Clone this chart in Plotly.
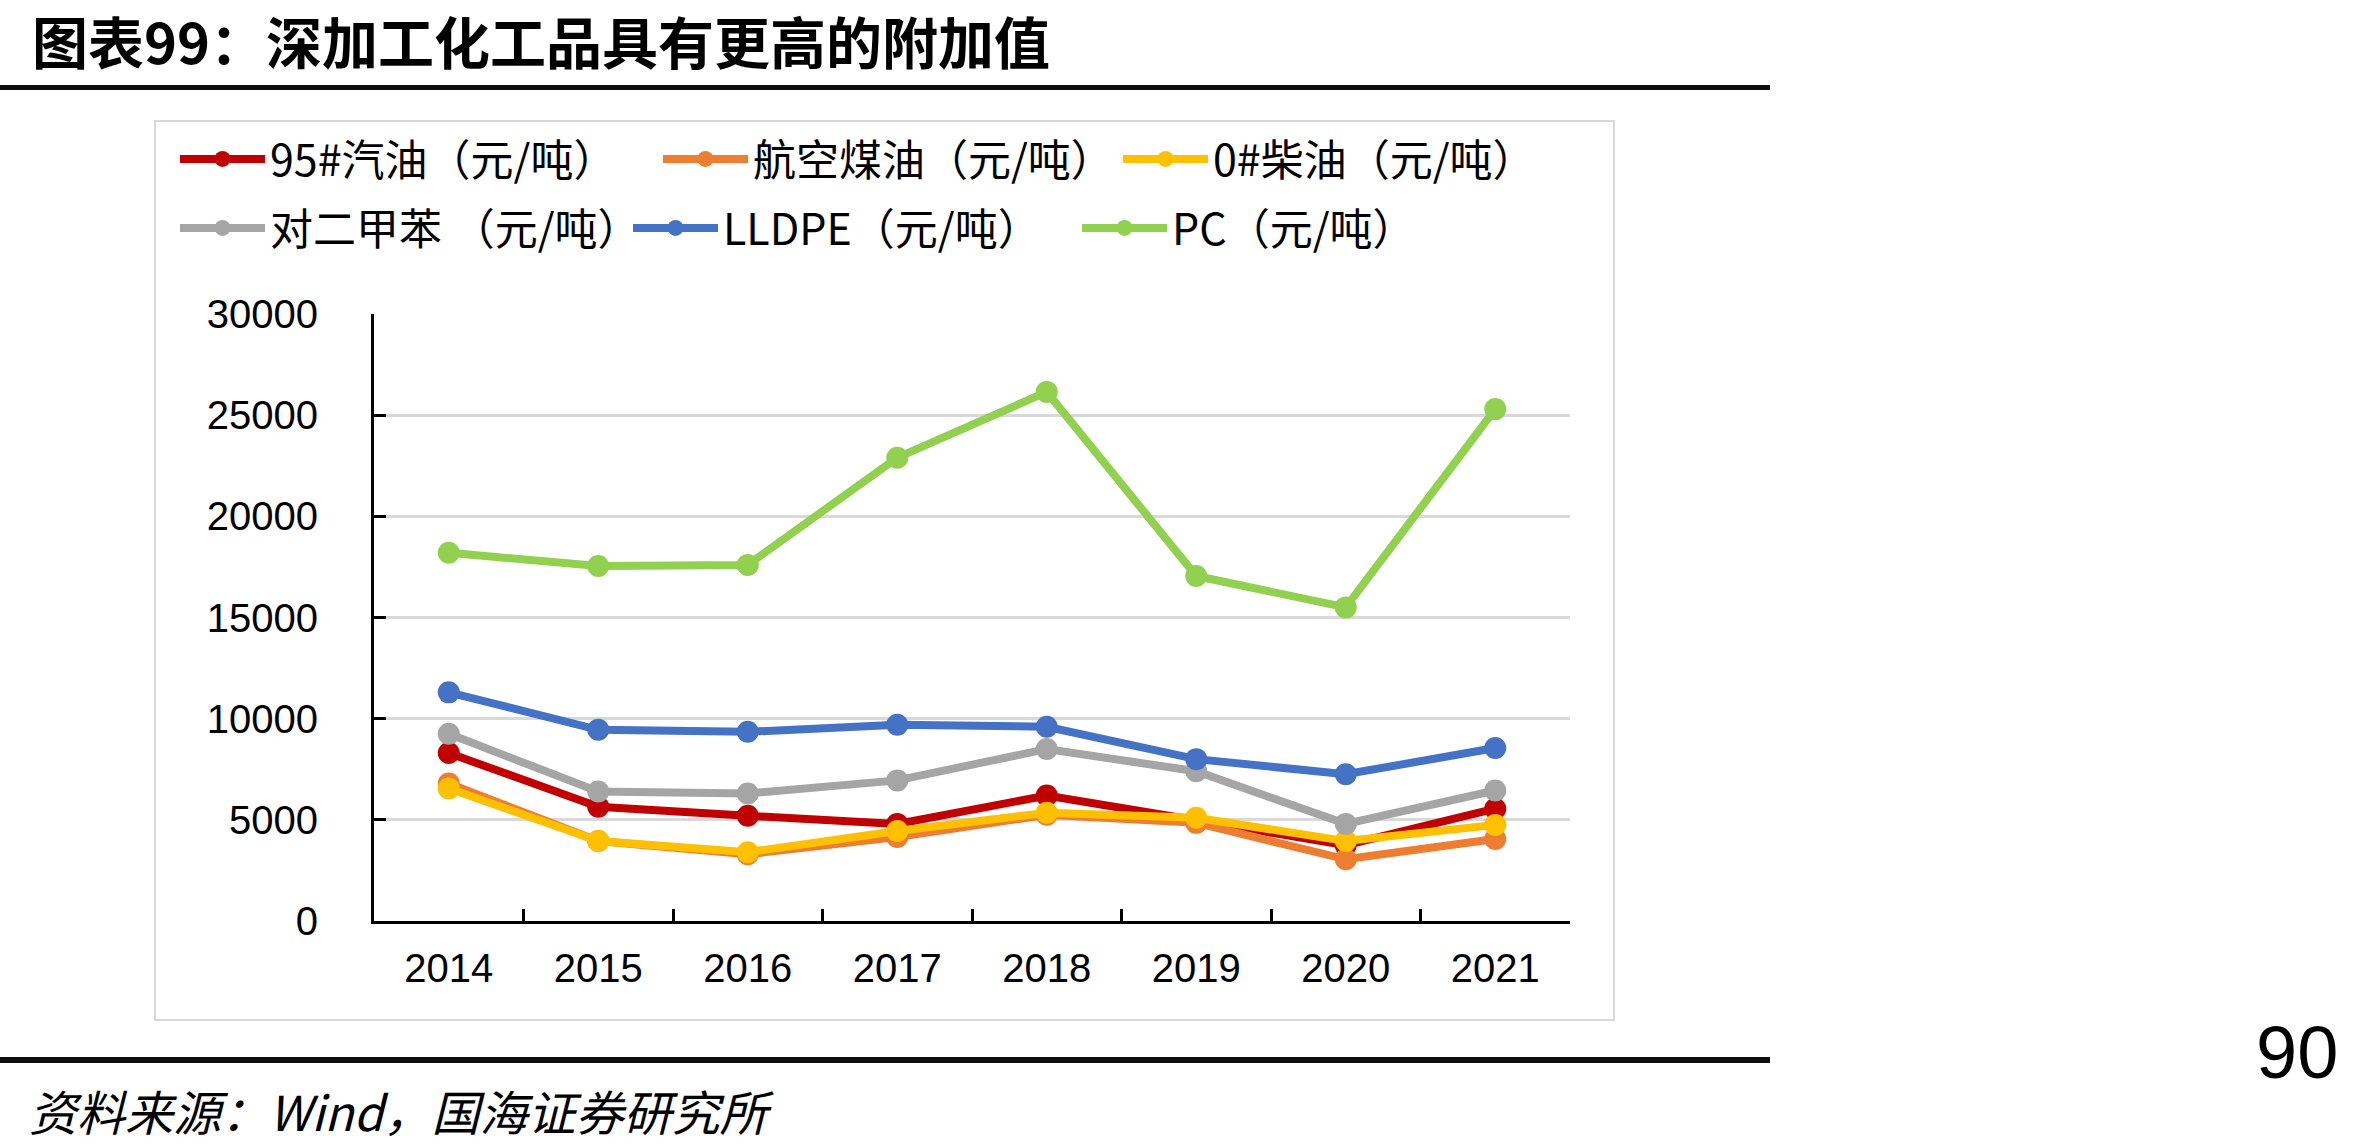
import plotly.graph_objects as go

W, H = 2363, 1146

# ---------------- data ----------------
years = ["2014", "2015", "2016", "2017", "2018", "2019", "2020", "2021"]
gasoline_95 = [8300, 5650, 5200, 4800, 6200, 4950, 3750, 5550]
jet_kerosene = [6800, 3950, 3300, 4150, 5250, 4850, 3050, 4050]
diesel_0 = [6550, 3950, 3400, 4450, 5350, 5100, 3950, 4750]
paraxylene = [9250, 6400, 6300, 6950, 8500, 7400, 4800, 6450]
lldpe = [11300, 9450, 9350, 9700, 9600, 8000, 7250, 8550]
pc = [18200, 17550, 17600, 22900, 26150, 17050, 15500, 25300]

series_names = ["95#汽油（元/吨）", "航空煤油（元/吨）", "0#柴油（元/吨）",
                "对二甲苯 （元/吨）", "LLDPE（元/吨）", "PC（元/吨）"]
series_values = [gasoline_95, jet_kerosene, diesel_0, paraxylene, lldpe, pc]
y_ticks = [0, 5000, 10000, 15000, 20000, 25000, 30000]
y_tick_labels = ["0", "5000", "10000", "15000", "20000", "25000", "30000"]

title_text = "图表99：深加工化工品具有更高的附加值"
source_text = "资料来源：Wind，国海证券研究所"
page_text = "90"

# ---------------- styling ----------------
colors = ["#C00000", "#ED7D31", "#FFC000", "#A5A5A5", "#4472C4", "#92D050"]
legend_ids = ["legend", "legend", "legend", "legend2", "legend2", "legend2"]
legend_widths = [383, 360, None, 353, 349, None]

L, R, T, B = 374, 1570, 314, 921


def xp(px):
    return (px - L) / (R - L)


def yp(py):
    return (B - py) / (B - T)


CJK = "Noto Sans CJK SC"
LAT = "Liberation Sans, Arial"

fig = go.Figure()
for name, vals, col, lg, lw in zip(series_names, series_values, colors, legend_ids, legend_widths):
    kw = {}
    if lw is not None:
        kw["legendwidth"] = lw
    fig.add_trace(go.Scatter(
        x=years, y=vals, name=name, mode="lines+markers",
        line=dict(color=col, width=8),
        marker=dict(color=col, size=22),
        legend=lg, **kw))

legend_font = dict(family=CJK, size=43, color="black")
fig.update_layout(
    width=W, height=H,
    margin=dict(l=L, r=W - R, t=T, b=H - B),
    paper_bgcolor="white", plot_bgcolor="white",
    showlegend=True,
    legend=dict(orientation="h", x=xp(175), xanchor="left", y=yp(159), yanchor="middle",
                itemwidth=85, font=legend_font,
                bgcolor="rgba(0,0,0,0)", traceorder="normal"),
    legend2=dict(orientation="h", x=xp(175), xanchor="left", y=yp(228), yanchor="middle",
                 itemwidth=85, font=legend_font,
                 bgcolor="rgba(0,0,0,0)", traceorder="normal"),
    xaxis=dict(type="category", showline=True, linecolor="black", linewidth=3,
               ticks="inside", tickson="boundaries", ticklen=12, tickwidth=3, tickcolor="black",
               showgrid=False, tickfont=dict(family=LAT, size=40, color="black"),
               ticklabelstandoff=10, range=[-0.5, 7.5]),
    yaxis=dict(range=[0, 30000], tickvals=y_ticks, ticktext=y_tick_labels,
               showline=True, linecolor="black", linewidth=3,
               ticks="inside", ticklen=12, tickwidth=3, tickcolor="black",
               showgrid=True, gridcolor="#D9D9D9", gridwidth=2.5, zeroline=False,
               tickfont=dict(family=LAT, size=40, color="black"),
               ticklabelstandoff=45),
)

shapes = [
    # chart frame
    dict(type="rect", xref="paper", yref="paper", x0=xp(155), x1=xp(1614), y0=yp(1020), y1=yp(121),
         line=dict(color="#D9D9D9", width=2), fillcolor="rgba(0,0,0,0)", layer="below"),
    # title underline
    dict(type="rect", xref="paper", yref="paper", x0=xp(0), x1=xp(1770), y0=yp(90), y1=yp(85),
         line=dict(width=0), fillcolor="#0D0D0D"),
    # footer line
    dict(type="rect", xref="paper", yref="paper", x0=xp(0), x1=xp(1770), y0=yp(1063), y1=yp(1057),
         line=dict(width=0), fillcolor="#0D0D0D"),
]
fig.update_layout(shapes=shapes)

fig.add_annotation(text="<b>" + title_text + "</b>", xref="paper", yref="paper", x=xp(30), y=yp(40),
                   xanchor="left", yanchor="middle", showarrow=False,
                   font=dict(family=CJK, size=56, color="black"))
fig.add_annotation(text=source_text, xref="paper", yref="paper", x=xp(27), y=yp(1110),
                   xanchor="left", yanchor="middle", showarrow=False,
                   font=dict(family=CJK, size=48, color="black", style="italic"))
fig.add_annotation(text=page_text, xref="paper", yref="paper", x=xp(2340), y=yp(1052),
                   xanchor="right", yanchor="middle", showarrow=False,
                   font=dict(family=LAT, size=74, color="black"))

fig.write_html("out.html")
